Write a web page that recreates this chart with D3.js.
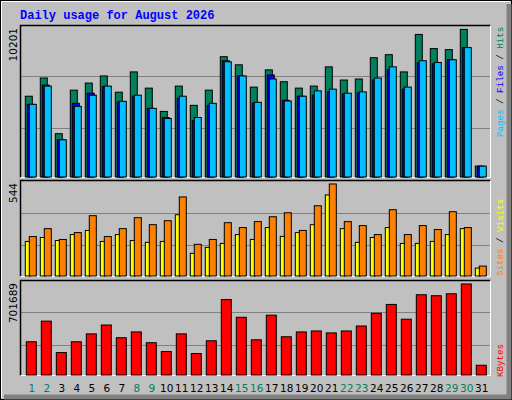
<!DOCTYPE html>
<html><head><meta charset="utf-8">
<script src="https://cdn.jsdelivr.net/npm/d3@7"></script>
<style>body{margin:0;background:#fff}svg{display:block}</style>
</head><body><svg id="c" width="512" height="400"></svg>
<script>
const days = d3.range(1, 32);
const weekend = [1,2,8,9,15,16,22,23,29,30];
const hits  = [5483,6691,3000,5886,6355,6825,5751,7094,6020,4476,6154,4879,5886,8100,7563,6087,7228,6443,6020,6154,7429,6557,6624,8033,8234,7094,9577,8637,8570,9912,852];
const files = [4946,6221,2597,5013,5684,6127,5100,5483,4678,4074,5349,3872,4879,7832,6825,5033,6892,5214,5483,5550,5771,5637,5704,6557,7228,5953,7697,7630,7899,8704,852];
const pages = [4946,6154,2597,4812,5550,6154,5147,5550,4678,4006,5483,4074,5013,7765,6825,5080,6624,5167,5483,5839,5953,5684,5771,6691,7429,6087,7832,7718,7899,8704,852];
const sites  = [203,225,208,241,264,203,241,208,198,203,351,137,170,192,241,214,280,231,252,296,461,274,198,225,280,192,192,203,241,274,55];
const visits = [230,274,214,252,346,230,274,335,296,318,450,187,214,307,280,313,340,362,264,401,522,313,291,241,379,241,291,269,368,280,66];
const kbytes = [255000,404000,177000,255000,312000,376000,284000,326000,248000,184000,312000,170000,262000,560000,432000,269000,447000,291000,326000,333000,319000,333000,369000,461000,525000,418000,595000,588000,602000,673000,85000];
const maxTop = 10201, maxMid = 544, maxBot = 701689;

const svg = d3.select('#c');
// frame
svg.append('rect').attr('x',0).attr('y',0).attr('width',512).attr('height',400).attr('fill','#c0c0c0');
svg.append('rect').attr('x',0.5).attr('y',0.5).attr('width',511).attr('height',399).attr('fill','none').attr('stroke','#000');
svg.append('path').attr('d','M1.5,398V1.5H510').attr('fill','none').attr('stroke','#fff');
svg.append('path').attr('d','M509,4V397H4').attr('fill','none').attr('stroke','#808080').attr('stroke-width',5);

svg.append('text').attr('x',20).attr('y',19).text('Daily usage for August 2026')
  .attr('font-family','Liberation Mono, DejaVu Sans Mono, monospace').attr('font-weight','bold')
  .attr('font-size',12).attr('fill','#0000ff');

const x = d3.scaleBand().domain(days).range([20, 491]).paddingInner(0).paddingOuter(0);
const step = 15, x0 = d => 25.3 + (d-1)*step;

function panel(top, bot, max, label){
  svg.append('rect').attr('x',20.5).attr('y',top+0.5).attr('width',470).attr('height',bot-top).attr('fill','#c0c0c0');
  const y = d3.scaleLinear().domain([0,max]).range([bot+2, top]);
  [max/3, 2*max/3].forEach(v=>svg.append('line').attr('x1',21).attr('x2',490).attr('y1',Math.round(y(v))+0.5).attr('y2',Math.round(y(v))+0.5).attr('stroke','#808080'));
  svg.append('path').attr('d',`M20.5,${bot+0.5}V${top+0.5}H490.5`).attr('fill','none').attr('stroke','#000').attr('stroke-width',1.5);
  svg.append('path').attr('d',`M490.5,${top+0.5}V${bot+0.5}H20.5`).attr('fill','none').attr('stroke','#fff');
  svg.append('text').attr('transform',`translate(17,${top+3}) rotate(-90)`).attr('text-anchor','end')
    .attr('font-family','DejaVu Sans, sans-serif').attr('font-size',10.5).attr('fill','#000').text(label);
  return y;
}
function bars(y, bot, data, off, w, color){
  svg.append('g').selectAll('rect').data(data).join('rect')
    .attr('x',(d,i)=>x0(days[i])+off).attr('y',d=>y(d)).attr('width',w).attr('height',d=>Math.max(0,bot-y(d)))
    .attr('fill',color).attr('stroke','#000').attr('stroke-width',1);
}
function rlabel(ybottom, parts){
  const t = svg.append('text').attr('transform',`translate(503,${ybottom}) rotate(-90)`)
    .attr('font-family','Liberation Mono, DejaVu Sans Mono, monospace').attr('font-size',9.2);
  parts.forEach(p=>t.append('tspan').attr('fill',p[1]).text(p[0]));
}

const yT = panel(25, 177, maxTop, '10201');
bars(yT, 177, hits, 0, 7, '#00805c');
bars(yT, 177, files, 2, 7, '#0000ff');
bars(yT, 177, pages, 4, 7, '#00c0ff');
rlabel(137, [['Pages','#00c0ff'],[' / ','#000'],['Files','#0000ff'],[' / ','#000'],['Hits','#00805c']]);

const yM = panel(180, 276, maxMid, '544');
bars(yM, 276, sites, 0, 5, '#ffff00');
bars(yM, 276, visits, 4, 7, '#ff8000');
rlabel(276, [['Sites','#ff8000'],[' / ','#000'],['Visits','#ffff00']]);

const yB = panel(280, 375, maxBot, '701689');
bars(yB, 375, kbytes, 1, 10, '#ff0000');
rlabel(377, [['KBytes','#ff0000']]);

svg.append('g').selectAll('text').data(days).join('text')
  .attr('x',d=>x0(d)+6.5).attr('y',392).attr('text-anchor','middle')
  .attr('font-family','DejaVu Sans, sans-serif').attr('font-size',10.5)
  .attr('fill',d=>weekend.includes(d)?'#00805c':'#000').text(d=>d);
</script></body></html>
